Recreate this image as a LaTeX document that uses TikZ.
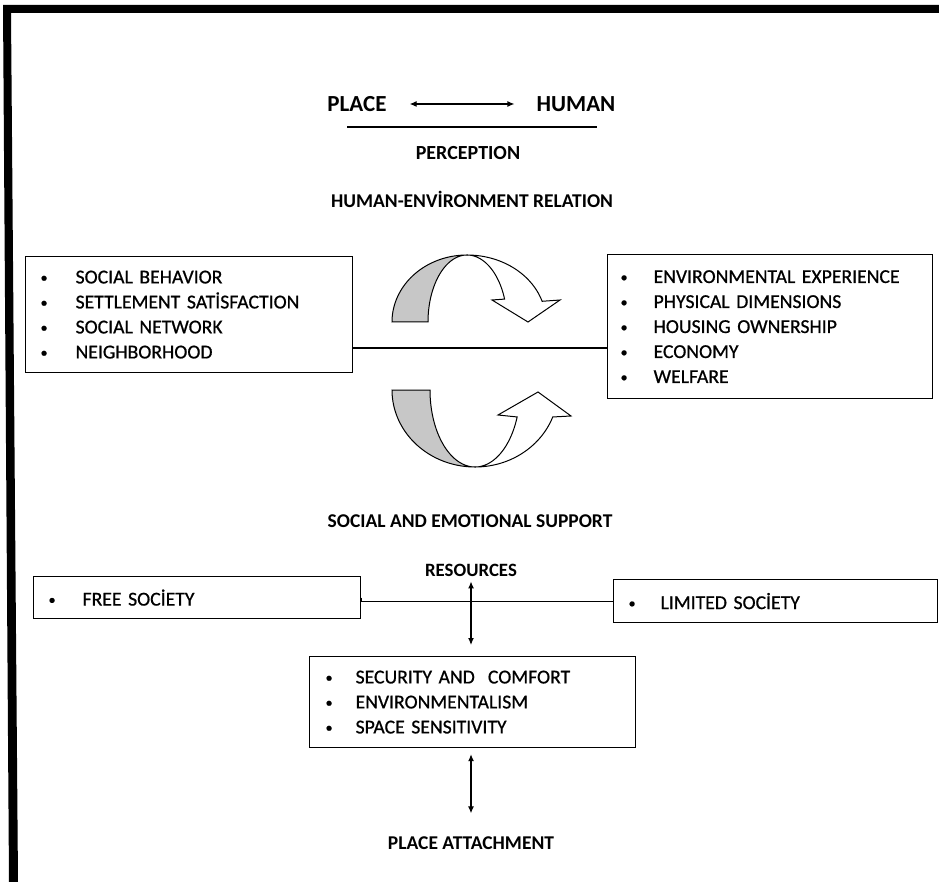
\documentclass[tikz,border=0pt]{standalone}
\usepackage{fontspec}
\setmainfont{Carlito}
\newfontfamily\boxfont{Carlito}[FakeBold=0.7]
\usetikzlibrary{arrows.meta}
\newcommand\bitem[2][33pt]{\makebox[#1][l]{\raisebox{1.2pt}{\fontsize{14}{14}\selectfont\textbullet}}#2}
\begin{document}
\begin{tikzpicture}[x=1pt,y=-1pt,
  box/.style={draw, line width=1.2pt, anchor=north west, align=left, inner ysep=0pt, font=\boxfont\fontsize{19.7}{25}\selectfont},
  head/.style={inner sep=0pt, font=\bfseries\fontsize{19.5}{22}\selectfont},
  bighead/.style={inner sep=0pt, font=\bfseries\fontsize{23}{26}\selectfont},
  conn/.style={line width=1.2pt},
  dbl/.style={line width=1.2pt, {Latex[length=7pt,width=6pt]}-{Latex[length=7pt,width=6pt]}},
  back/.style={draw, line width=1pt, fill=black!22},
  front/.style={draw, line width=1pt, fill=white}]
\useasboundingbox (0,0) rectangle (939,882);
\fill[white] (0,0) rectangle (939,882);
\fill[black] (3,5) -- (939,5) -- (939,13) -- (11,13) -- (18,882) -- (9,882) -- cycle;

% top
\node[bighead] (place) at (357,104) {PLACE};
\node[bighead] (human) at (576,104) {HUMAN};
\draw[dbl, line width=1.1pt, shorten <=23pt, shorten >=22pt] (place.east) -- (human.west);
\coordinate (ul1) at (347,127);
\coordinate (ul2) at (597,127);
\draw[line width=1.5pt] (ul1) -- (ul2);
\node[head, font=\bfseries\fontsize{20}{22}\selectfont] (perc) at (468,153) {PERCEPTION};
\node[head] (her) at (472,199) {HUMAN-ENVİRONMENT RELATION};

% upper boxes
\node[box, inner xsep=15pt, text width=297pt, minimum height=116pt] (lbox) at (25,256)
  {\bitem[35pt]{SOCIAL BEHAVIOR}\\\bitem[35pt]{SETTLEMENT SATİSFACTION}\\\bitem[35pt]{SOCIAL NETWORK}\\\bitem[35pt]{NEIGHBORHOOD}};
\node[box, inner xsep=13pt, text width=299pt, minimum height=144pt] (rbox) at (607,254)
  {\bitem[33pt]{ENVIRONMENTAL EXPERIENCE}\\\bitem[33pt]{PHYSICAL DIMENSIONS}\\\bitem[33pt]{HOUSING OWNERSHIP}\\\bitem[33pt]{ECONOMY}\\\bitem[33pt]{WELFARE}};
\coordinate (midl) at (0,348);
\draw[conn] (lbox.east |- midl) -- (rbox.west |- midl);

% curved arrow top
\draw[back] plot[domain=180:90, samples=40] ({467+75*cos(\x)},{322-67*sin(\x)})
  -- plot[domain=90:180, samples=40] ({467+39*cos(\x)},{322-67*sin(\x)}) -- cycle;
\draw[front] plot[domain=90:18, samples=40] ({467+79*cos(\x)},{322-67*sin(\x)})
  -- (560,300) -- (528,322) -- (492,300)
  -- plot[domain=20:90, samples=40] ({467+40*cos(\x)},{322-67*sin(\x)}) -- cycle;

% curved arrow bottom
\draw[back] plot[domain=180:270, samples=40] ({475+83*cos(\x)},{390-77*sin(\x)})
  -- plot[domain=270:180, samples=40] ({475+45*cos(\x)},{390-77*sin(\x)}) -- cycle;
\draw[front] plot[domain=270:339.5, samples=40] ({475+83*cos(\x)},{390-77*sin(\x)})
  -- (571,416) -- (538,392) -- (498,415)
  -- plot[domain=339.5:270, samples=40] ({475+45*cos(\x)},{390-77*sin(\x)}) -- cycle;

% middle
\node[head] (sup) at (470,521) {SOCIAL AND EMOTIONAL SUPPORT};
\node[head, font=\bfseries\fontsize{18.8}{22}\selectfont] (res) at (471,570) {RESOURCES};

\node[box, inner xsep=15pt, text width=297pt, minimum height=42pt] (free) at (33,576)
  {\bitem[34pt]{FREE SOCİETY}};
\node[box, inner xsep=15pt, text width=294pt, minimum height=43pt] (lim) at (613,579)
  {\bitem[32pt]{LIMITED SOCİETY}};
\draw[conn] (free.east) -- (lim.west -| free.east) -- (lim.west);

\node[box, inner xsep=16pt, text width=294pt, minimum height=91pt] (bbox) at (309,656)
  {\bitem[30pt]{SECURITY AND\ \ COMFORT}\\\bitem[30pt]{ENVIRONMENTALISM}\\\bitem[30pt]{SPACE SENSITIVITY}};
\draw[dbl, shorten <=5pt, shorten >=11pt] (res.south) -- (res.south |- bbox.north);

\node[head] (attach) at (471,843) {PLACE ATTACHMENT};
\draw[dbl, shorten <=6pt, shorten >=23pt] (attach.north |- bbox.south) -- (attach.north);
\end{tikzpicture}
\end{document}
